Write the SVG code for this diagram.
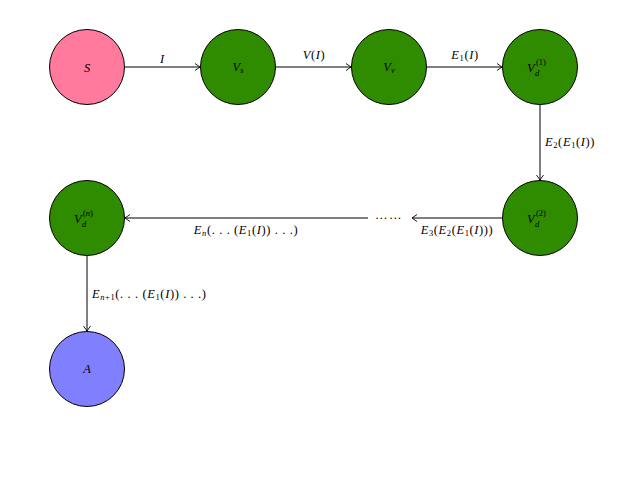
<svg xmlns="http://www.w3.org/2000/svg" width="644" height="489" viewBox="0 0 644 489">
<style>
.n{stroke:#000;stroke-width:1}
.t{font-family:"Liberation Serif","DejaVu Serif",serif;font-size:12.5px;fill:#000}
.i{font-style:italic}
.s{font-size:8.5px}
.e{stroke:#000;stroke-width:1;fill:none;marker-end:url(#ah)}
</style>
<defs>
<marker id="ah" viewBox="-6 -4 7 8" refX="0" refY="0" markerWidth="7" markerHeight="8" markerUnits="userSpaceOnUse" orient="auto">
<path d="M-5,-3.5 Q-1.5,-1 0,0 Q-1.5,1 -5,3.5" fill="none" stroke="#000" stroke-width="0.9"/>
</marker>
</defs>
<rect width="644" height="489" fill="#fff"/>
<g id="S"><circle class="n" cx="87" cy="67" r="37.5" fill="#ff7a9c"/><text class="t i" x="87" y="72" text-anchor="middle">S</text></g>
<g id="Vs"><circle class="n" cx="238" cy="67" r="37.5" fill="#2f8b00"/><text class="t i" x="238" y="71" text-anchor="middle">V<tspan class="s" dy="2">s</tspan></text></g>
<g id="Vv"><circle class="n" cx="389" cy="67" r="37.5" fill="#2f8b00"/><text class="t i" x="389" y="71" text-anchor="middle">V<tspan class="s" dy="2">v</tspan></text></g>
<g id="Vd1"><circle class="n" cx="540" cy="67" r="37.5" fill="#2f8b00"/><text class="t" x="527" y="72"><tspan class="i">V</tspan><tspan class="s i" x="535" y="76">d</tspan><tspan class="s" x="536" y="65">(1)</tspan></text></g>
<g id="Vd2"><circle class="n" cx="540" cy="218" r="37.5" fill="#2f8b00"/><text class="t" x="527" y="223"><tspan class="i">V</tspan><tspan class="s i" x="535" y="227">d</tspan><tspan class="s" x="536" y="216">(2)</tspan></text></g>
<g id="Vdn"><circle class="n" cx="87" cy="218" r="37.5" fill="#2f8b00"/><text class="t" x="74" y="223"><tspan class="i">V</tspan><tspan class="s i" x="82" y="227">d</tspan><tspan class="s" x="83" y="216">(<tspan class="i">n</tspan>)</tspan></text></g>
<g id="A"><circle class="n" cx="87" cy="369" r="37.5" fill="#8080ff"/><text class="t i" x="87" y="373" text-anchor="middle">A</text></g>
<g id="connectors">
<line class="e" x1="125" y1="67" x2="200" y2="67"/>
<text class="t i" x="162" y="63" text-anchor="middle">I</text>
<line class="e" x1="276" y1="67" x2="351" y2="67"/>
<text class="t" x="314" y="59" text-anchor="middle" letter-spacing="0.6"><tspan class="i">V</tspan>(<tspan class="i">I</tspan>)</text>
<line class="e" x1="427" y1="67" x2="502" y2="67"/>
<text class="t" x="465" y="59" text-anchor="middle" letter-spacing="0.6"><tspan class="i">E</tspan><tspan class="s" dy="2">1</tspan><tspan dy="-2">(</tspan><tspan class="i">I</tspan>)</text>
<line class="e" x1="540" y1="105" x2="540" y2="180"/>
<text class="t" x="545" y="146" letter-spacing="0.6"><tspan class="i">E</tspan><tspan class="s" dy="2">2</tspan><tspan dy="-2">(</tspan><tspan class="i">E</tspan><tspan class="s" dy="2">1</tspan><tspan dy="-2">(</tspan><tspan class="i">I</tspan>))</text>
<line class="e" x1="502" y1="218" x2="412" y2="218"/>
<text class="t" x="389" y="219" text-anchor="middle" letter-spacing="1.5">……</text>
<text class="t" x="457" y="234" text-anchor="middle" letter-spacing="0.6"><tspan class="i">E</tspan><tspan class="s" dy="2">3</tspan><tspan dy="-2">(</tspan><tspan class="i">E</tspan><tspan class="s" dy="2">2</tspan><tspan dy="-2">(</tspan><tspan class="i">E</tspan><tspan class="s" dy="2">1</tspan><tspan dy="-2">(</tspan><tspan class="i">I</tspan>)))</text>
<line class="e" x1="368" y1="218" x2="125" y2="218"/>
<text class="t" x="246" y="234" text-anchor="middle" letter-spacing="0.6"><tspan class="i">E</tspan><tspan class="s i" dy="2">n</tspan><tspan dy="-2">(. . . (</tspan><tspan class="i">E</tspan><tspan class="s" dy="2">1</tspan><tspan dy="-2">(</tspan><tspan class="i">I</tspan>)) . . .)</text>
<line class="e" x1="87" y1="256" x2="87" y2="331"/>
<text class="t" x="92" y="298" letter-spacing="0.6"><tspan class="i">E</tspan><tspan class="s" dy="2"><tspan class="i">n</tspan>+1</tspan><tspan dy="-2">(. . . (</tspan><tspan class="i">E</tspan><tspan class="s" dy="2">1</tspan><tspan dy="-2">(</tspan><tspan class="i">I</tspan>)) . . .)</text>
</g>
</svg>
